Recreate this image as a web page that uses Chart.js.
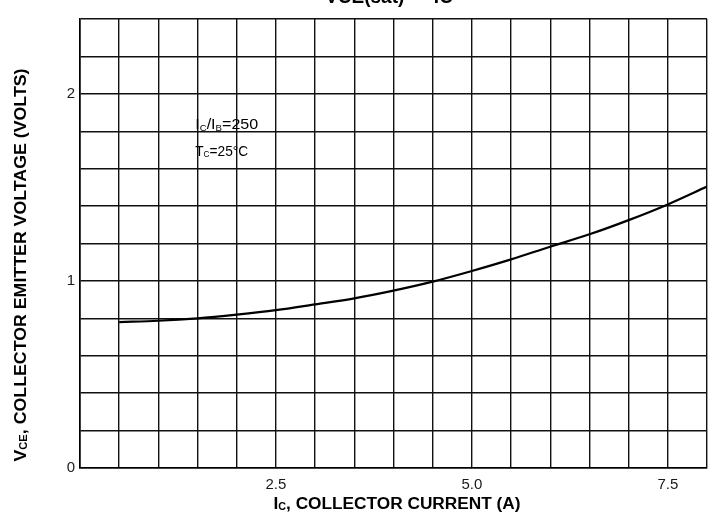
<!DOCTYPE html>
<html>
<head>
<meta charset="utf-8">
<script src="https://cdn.jsdelivr.net/npm/chart.js@4.4.1/dist/chart.umd.min.js"></script>
<style>
  html, body { margin: 0; padding: 0; background: #fff; }
  canvas { display: block; }
</style>
</head>
<body>
<canvas id="chart" width="716" height="526"></canvas>
<script>
// collector current (A) and saturation voltage (V)
const currentA = [0.5, 1.0, 1.5, 2.0, 2.5, 3.0, 3.5, 4.0, 4.5, 5.0, 5.5, 6.0, 6.5, 7.0, 7.5, 8.0];
const vceSat = [0.78, 0.787, 0.80, 0.82, 0.844, 0.875, 0.907, 0.948, 0.996, 1.053, 1.115, 1.183, 1.249, 1.325, 1.409, 1.504];

const xLabels = [2.5, 5.0, 7.5];
const yLabels = [0, 1, 2];

const FONT = '"Liberation Sans", Arial, sans-serif';

// draw text made of parts, some of them subscript, optionally squeezed to a width
function drawRich(ctx, parts, size, bold, x, y, targetWidth, subDrop) {
    const w = bold ? 'bold ' : '';
    const subSize = Math.round(size * 0.62);
    const drop = subDrop === undefined ? size * 0.22 : subDrop;
    let total = 0;
    parts.forEach(p => {
        ctx.font = w + (p.sub ? subSize : size) + 'px ' + FONT;
        total += ctx.measureText(p.t).width;
    });
    const sx = targetWidth ? targetWidth / total : 1;
    ctx.save();
    ctx.translate(x, y);
    ctx.scale(sx, 1);
    let cx = -total / 2;
    ctx.textBaseline = 'middle';
    ctx.textAlign = 'left';
    parts.forEach(p => {
        ctx.font = w + (p.sub ? subSize : size) + 'px ' + FONT;
        ctx.fillText(p.t, cx, p.sub ? drop : 0);
        cx += ctx.measureText(p.t).width;
    });
    ctx.restore();
}

const textPlugin = {
    id: 'texts',
    beforeDraw(chart) {
        const ctx = chart.ctx;
        ctx.save();
        ctx.fillStyle = '#fff';
        ctx.fillRect(0, 0, chart.width, chart.height);
        ctx.restore();
    },
    afterDraw(chart) {
        const ctx = chart.ctx;
        const xs = chart.scales.x, ys = chart.scales.y;
        ctx.save();
        ctx.fillStyle = '#000';

        // title, cut off at the top edge
        ctx.save();
        ctx.textBaseline = 'alphabetic';
        ctx.textAlign = 'center';
        ctx.font = 'bold 20px ' + FONT;
        ctx.translate(389, 3);
        ctx.scale(0.95, 1);
        ctx.fillText('VCE(sat) \u2014 IC', 0, 0);
        ctx.restore();

        // x axis title
        drawRich(ctx, [
            { t: 'I' }, { t: 'C', sub: true }, { t: ', COLLECTOR CURRENT (A)' }
        ], 16, true, 397, 505, 247, 2);

        // y axis title
        ctx.save();
        ctx.translate(22, 265);
        ctx.rotate(-Math.PI / 2);
        drawRich(ctx, [
            { t: 'V' }, { t: 'CE', sub: true }, { t: ', COLLECTOR EMITTER VOLTAGE (VOLTS)' }
        ], 16, true, 0, 0, 393, 2);
        ctx.restore();

        // conditions note
        const nx = xs.getPixelForValue(1.47);
        const ny1 = ys.getPixelForValue(1.833);
        const ny2 = ys.getPixelForValue(1.69);
        const parts1 = [{ t: 'I' }, { t: 'C', sub: true }, { t: '/I' }, { t: 'B', sub: true }, { t: '=250' }];
        const parts2 = [{ t: 'T' }, { t: 'C', sub: true }, { t: '=25\u00B0C' }];
        [[parts1, ny1, 63], [parts2, ny2, 53]].forEach(([parts, py, tw]) => {
            drawRich(ctx, parts, 15, false, nx + tw / 2, py, tw, 3);
        });

        ctx.restore();
    }
};

new Chart(document.getElementById('chart'), {
    type: 'line',
    data: {
        datasets: [{
            data: currentA.map((c, i) => ({ x: c, y: vceSat[i] })),
            borderColor: '#000',
            borderWidth: 2.2,
            pointRadius: 0,
            tension: 0.35,
            fill: false
        }]
    },
    options: {
        responsive: false,
        animation: false,
        layout: { padding: { left: 0, top: 19, right: 9, bottom: 0 } },
        plugins: {
            legend: { display: false },
            tooltip: { enabled: false }
        },
        scales: {
            x: {
                type: 'linear',
                min: 0,
                max: 8,
                afterFit(scale) { scale.height = 58; },
                grid: { color: '#111', lineWidth: 1.4, drawTicks: false },
                border: { color: '#000', width: 1.6 },
                ticks: {
                    stepSize: 0.5,
                    padding: 8,
                    maxRotation: 0,
                    autoSkip: false,
                    color: '#1a1a1a',
                    font: { family: FONT, size: 15 },
                    callback: v => xLabels.some(l => Math.abs(l - v) < 1e-6) ? v.toFixed(1) : ''
                }
            },
            y: {
                type: 'linear',
                min: 0,
                max: 2.4,
                afterFit(scale) { scale.width = 80; },
                grid: { color: '#111', lineWidth: 1.4, drawTicks: false },
                border: { color: '#000', width: 1.6 },
                ticks: {
                    stepSize: 0.2,
                    padding: 5,
                    autoSkip: false,
                    color: '#1a1a1a',
                    font: { family: FONT, size: 15 },
                    callback: v => yLabels.some(l => Math.abs(l - v) < 1e-6) ? String(Math.round(v)) : ''
                }
            }
        }
    },
    plugins: [textPlugin]
});
</script>
</body>
</html>
